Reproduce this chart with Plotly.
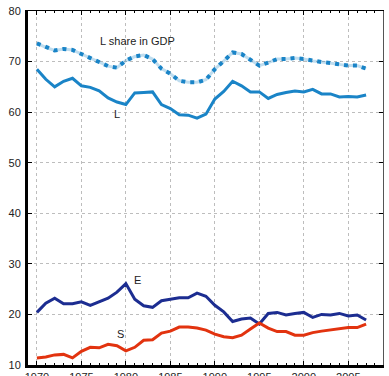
import plotly.graph_objects as go

years = list(range(1970, 2008))

# Labour share in GDP (dotted)
l_share_gdp = [73.6, 72.8, 72.2, 72.5, 72.3, 71.5, 70.7, 69.9, 69.1, 68.8, 70.2, 71.0, 71.3,
               70.5, 68.6, 67.6, 66.2, 65.9, 65.9, 66.4, 68.5, 70.1, 71.8, 71.5, 70.4, 69.2,
               69.8, 70.5, 70.5, 70.7, 70.5, 70.1, 69.9, 69.7, 69.4, 69.2, 69.2, 68.6]
# L
l_series = [68.5, 66.5, 65.0, 66.1, 66.7, 65.2, 64.9, 64.2, 62.8, 62.0, 61.5, 63.8, 63.9,
            64.0, 61.5, 60.7, 59.5, 59.4, 58.8, 59.6, 62.6, 64.1, 66.1, 65.2, 64.0, 64.0,
            62.7, 63.5, 63.9, 64.2, 64.0, 64.5, 63.6, 63.6, 63.0, 63.1, 63.0, 63.4]
# E
e_series = [20.4, 22.2, 23.2, 22.1, 22.1, 22.5, 21.8, 22.5, 23.2, 24.4, 26.1, 23.0, 21.7,
            21.4, 22.7, 23.0, 23.3, 23.3, 24.2, 23.6, 21.8, 20.5, 18.6, 19.1, 19.3, 18.1,
            20.2, 20.4, 19.9, 20.2, 20.4, 19.4, 20.0, 19.9, 20.2, 19.7, 19.9, 18.9]
# S
s_series = [11.4, 11.6, 12.0, 12.1, 11.4, 12.7, 13.5, 13.4, 14.1, 13.8, 12.8, 13.5, 14.9,
            15.0, 16.3, 16.7, 17.5, 17.5, 17.3, 16.9, 16.1, 15.6, 15.4, 15.9, 17.1, 18.3,
            17.3, 16.6, 16.6, 15.9, 15.9, 16.4, 16.7, 16.9, 17.1, 17.4, 17.4, 18.1]

x_ticks = [1970, 1975, 1980, 1985, 1990, 1995, 2000, 2005]
y_ticks = [10, 20, 30, 40, 50, 60, 70, 80]

BLUE = "#1a84c7"
NAVY = "#1c2d91"
RED = "#e2330f"

fig = go.Figure()

# faint halo under the dotted series
fig.add_trace(go.Scatter(x=years, y=l_share_gdp, mode="lines",
                         line=dict(color="rgba(26,132,199,0.28)", width=3),
                         hoverinfo="skip", showlegend=False))
fig.add_trace(go.Scatter(x=years, y=l_share_gdp, mode="lines",
                         line=dict(color=BLUE, width=4, dash="4px,5px"),
                         showlegend=False))
fig.add_trace(go.Scatter(x=years, y=l_series, mode="lines",
                         line=dict(color=BLUE, width=3), showlegend=False))
fig.add_trace(go.Scatter(x=years, y=e_series, mode="lines",
                         line=dict(color=NAVY, width=3), showlegend=False))
fig.add_trace(go.Scatter(x=years, y=s_series, mode="lines",
                         line=dict(color=RED, width=3), showlegend=False))

# invisible trace to carry the mirrored top/right axes
fig.add_trace(go.Scatter(x=[1969, 2009], y=[10, 80], mode="none", xaxis="x2", yaxis="y2",
                         showlegend=False, hoverinfo="skip"))

font = dict(family="Liberation Sans, Arial, sans-serif", size=11, color="#222")
xr = [1969.0, 2008.9]
yr = [10, 80]
grid = "#bdbdbd"

fig.update_layout(
    width=389, height=376,
    margin=dict(l=28, r=6, t=11, b=11, autoexpand=False),
    paper_bgcolor="white", plot_bgcolor="white",
    font=font,
    xaxis=dict(range=xr, tickvals=x_ticks, ticks="inside", ticklen=4, tickcolor="black",
               showline=True, linecolor="black", linewidth=3, automargin=False,
               showgrid=True, gridcolor=grid, griddash="dot", gridwidth=1,
               minor=dict(dtick=1, tick0=1970, ticks="inside", ticklen=2, tickcolor="black",
                          showgrid=False),
               zeroline=False, tickfont=font, ticklabelstandoff=0),
    yaxis=dict(range=yr, tickvals=y_ticks, ticks="inside", ticklen=4, tickcolor="black",
               showline=True, linecolor="black", linewidth=3, automargin=False,
               showgrid=True, gridcolor=grid, griddash="dot", gridwidth=1,
               zeroline=False, tickfont=font, ticklabelstandoff=2),
    xaxis2=dict(range=xr, overlaying="x", side="top", tickvals=x_ticks, ticks="inside",
                ticklen=4, tickcolor="black", showticklabels=False, showgrid=False,
                showline=True, linecolor="black", linewidth=1, automargin=False,
                minor=dict(dtick=1, tick0=1970, ticks="inside", ticklen=2, tickcolor="black"),
                zeroline=False),
    yaxis2=dict(range=yr, overlaying="y", side="right", tickvals=y_ticks, ticks="inside",
                ticklen=4, tickcolor="black", showticklabels=False, showgrid=False,
                showline=True, linecolor="#555", linewidth=1, zeroline=False,
                automargin=False),
    annotations=[
        dict(x=1981.3, y=74.1, text="L share in GDP", showarrow=False, font=font),
        dict(x=1979.0, y=59.7, text="L", showarrow=False, font=font),
        dict(x=1981.3, y=26.8, text="E", showarrow=False, font=font),
        dict(x=1979.4, y=16.2, text="S", showarrow=False, font=font),
    ],
)

fig.write_html("out.html")
